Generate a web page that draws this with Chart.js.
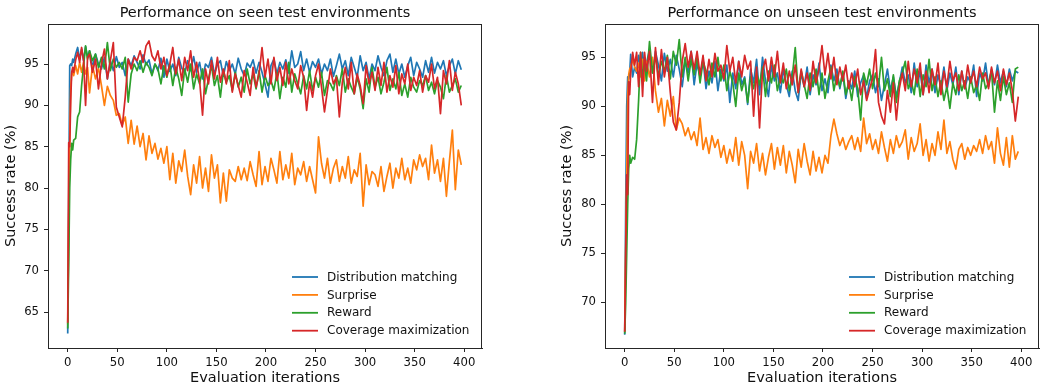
<!DOCTYPE html>
<html>
<head>
<meta charset="utf-8">
<script src="https://cdn.jsdelivr.net/npm/chart.js@4"></script>
<style>
  body { margin: 0; background: #fff; }
  #wrap { position: relative; width: 1040px; height: 387px; }
  canvas { position: absolute; top: 0; }
</style>
</head>
<body>
<div id="wrap">
  <canvas id="seenChart" width="520" height="387" style="left:0"></canvas>
  <canvas id="unseenChart" width="520" height="387" style="left:520px"></canvas>
</div>
<script>
const iters = [0, 1, 2, 3, 4, 5, 6, 8, 10, 12,
  14, 16, 18, 20, 22, 25, 28, 31, 34, 37,
  40, 43, 46, 49, 52, 55, 58, 61, 64, 67,
  70, 73, 76, 79, 82, 85, 88, 91, 94, 97,
  100, 103, 106, 109, 112, 115, 118, 121, 124, 127,
  130, 133, 136, 139, 142, 145, 148, 151, 154, 157,
  160, 163, 166, 169, 172, 175, 178, 181, 184, 187,
  190, 193, 196, 199, 202, 205, 208, 211, 214, 217,
  220, 223, 226, 229, 232, 235, 238, 241, 244, 247,
  250, 253, 256, 259, 262, 265, 268, 271, 274, 277,
  280, 283, 286, 289, 292, 295, 298, 301, 304, 307,
  310, 313, 316, 319, 322, 325, 328, 331, 334, 337,
  340, 343, 346, 349, 352, 355, 358, 361, 364, 367,
  370, 373, 376, 379, 382, 385, 388, 391, 394, 397];

const seriesLabels = ['Distribution matching', 'Surprise', 'Reward', 'Coverage maximization'];
const xTicks = [0, 50, 100, 150, 200, 250, 300, 350, 400];
const seenYTicks = [65, 70, 75, 80, 85, 90, 95];
const unseenYTicks = [70, 75, 80, 85, 90, 95];

// seen test environments
const seenDist = [62.4, 78.0, 94.8, 95.0, 94.8, 95.6, 95.2, 96.2, 97.0, 95.6,
  96.8, 95.4, 97.1, 95.8, 96.6, 94.6, 96.2, 95.0, 94.4, 95.8,
  93.2, 95.4, 94.2, 95.9, 94.6, 95.2, 93.6, 95.6, 94.8, 96.0,
  95.2, 94.4, 96.1, 94.9, 95.5, 93.8, 95.0, 94.2, 95.7, 93.4,
  95.6, 94.1, 95.0, 93.6, 95.8, 94.5, 93.9, 95.4, 94.2, 95.9,
  94.0, 95.2, 93.2, 95.0, 94.6, 95.8, 93.8, 94.9, 95.4, 93.5,
  95.3, 94.2, 95.0, 93.8, 95.7, 94.4, 93.6, 95.1, 94.6, 95.5,
  93.9, 95.2, 94.0, 92.6, 91.0, 94.8, 95.6, 93.8, 95.2, 94.4,
  95.5, 93.9, 96.6, 94.6, 95.0, 96.5, 94.2, 95.6, 94.0, 95.3,
  94.6, 95.6, 93.8, 95.0, 94.2, 95.6, 93.5, 94.8, 96.2, 94.4,
  95.4, 93.6, 95.8, 94.6, 93.4, 96.0, 94.2, 95.2, 93.2, 95.0,
  94.2, 96.0, 94.6, 93.6, 95.4, 96.2, 94.0, 95.6, 93.8, 95.0,
  93.4, 94.8, 95.8, 93.6, 95.2, 94.4, 93.4, 95.4, 94.0, 95.8,
  93.9, 95.2, 94.4, 95.4, 93.6, 94.8, 95.6, 93.8, 95.4, 94.3];
const seenSurp = [63.5, 76.0, 86.0, 92.0, 93.8, 94.2, 93.6, 94.8, 93.8, 95.2,
  94.0, 95.2, 93.8, 94.6, 91.5, 94.8, 93.2, 94.5, 92.4, 90.0,
  92.3, 91.2, 90.6, 88.8, 89.0, 87.6, 88.6, 85.4, 88.2, 85.3,
  87.5, 85.0, 86.6, 83.4, 86.3, 84.2, 85.4, 83.5, 84.8, 83.0,
  85.0, 81.0, 84.2, 80.6, 83.3, 82.0, 84.6, 81.4, 79.2, 82.8,
  80.6, 83.8, 80.0, 82.4, 79.6, 84.0, 81.2, 82.8, 78.2, 81.8,
  78.4, 82.2, 81.2, 80.8, 82.6, 81.0, 82.4, 80.9, 83.2, 81.6,
  80.2, 84.4, 80.4, 82.6, 80.8, 83.6, 82.2, 80.6, 84.4, 81.0,
  82.8, 81.2, 84.2, 80.4, 82.4, 81.6, 83.2, 80.8, 82.6, 81.0,
  79.4, 86.2, 83.0, 81.2, 83.6, 80.6, 82.4, 83.4, 80.8, 82.6,
  81.2, 83.8, 80.6, 82.2, 81.4, 84.2, 77.8, 82.8, 80.4, 82.0,
  81.6, 80.2, 82.6, 79.6, 81.4, 83.0, 80.0, 82.4, 81.2, 83.6,
  81.0, 82.4, 80.6, 83.4, 82.2, 84.0, 82.6, 83.6, 81.0, 85.2,
  81.8, 83.4, 80.8, 83.6, 79.0, 83.2, 87.0, 79.8, 84.6, 82.8];
const seenRew = [63.0, 71.0, 80.0, 83.5, 85.4, 84.6, 85.8, 86.0, 88.6, 89.2,
  92.4, 94.8, 97.2, 95.6, 96.6, 95.4, 96.2, 94.6, 95.8, 94.4,
  97.6, 94.2, 95.6, 94.6, 95.2, 94.4, 95.8, 90.4, 93.8, 95.0,
  94.2, 95.4, 94.0, 95.2, 94.6, 93.6, 95.0, 94.4, 92.6, 94.8,
  93.4, 95.0, 92.4, 94.6, 93.2, 91.2, 94.4, 92.8, 95.0, 92.0,
  93.8, 92.6, 94.4, 91.4, 93.2, 94.8, 92.4, 93.6, 91.0, 94.2,
  92.8, 93.6, 91.8, 94.0, 92.2, 93.4, 91.6, 94.4, 92.6, 93.8,
  92.0, 94.2, 91.6, 93.6, 92.4, 93.0, 91.8, 94.0, 90.8, 93.4,
  92.2, 95.2, 91.6, 93.8, 92.6, 91.4, 93.6, 92.0, 94.2, 91.8,
  93.4, 92.2, 94.0, 91.2, 93.0, 92.6, 91.8, 93.6, 92.4, 94.4,
  91.6, 93.2, 92.2, 91.4, 93.4, 92.0, 89.6, 93.2, 91.6, 94.6,
  92.2, 93.4, 91.4, 92.8, 94.6, 91.8, 93.2, 92.0, 94.0, 91.2,
  92.6, 91.0, 93.4, 92.2, 91.6, 93.0, 92.4, 93.6, 91.8, 92.8,
  91.4, 93.0, 92.2, 90.8, 93.6, 91.6, 92.4, 93.2, 91.6, 92.4];
const seenCov = [63.7, 85.5, 85.0, 90.5, 94.0, 94.6, 94.0, 95.5, 96.4, 95.2,
  97.0, 95.4, 90.0, 95.8, 96.2, 94.0, 95.6, 92.0, 95.0, 96.8,
  93.2, 95.4, 97.6, 89.8, 88.6, 87.4, 91.0, 95.6, 94.4, 95.8,
  95.4, 96.6, 95.2, 97.2, 97.8, 96.0, 95.4, 96.6, 94.4, 95.8,
  93.6, 95.0, 97.0, 93.8, 95.6, 93.0, 95.8, 94.2, 96.6, 93.4,
  95.2, 93.0, 88.8, 94.4, 92.6, 95.4, 93.2, 95.8, 92.8, 94.4,
  92.6, 95.4, 91.6, 93.8, 92.4, 91.0, 94.2, 92.8, 91.2, 94.6,
  92.2, 93.8, 97.0, 93.4, 95.6, 92.6, 95.8, 93.0, 94.6, 92.4,
  95.2, 92.6, 94.4, 93.0, 92.0, 94.8, 93.4, 89.4, 92.8, 91.0,
  93.6, 95.0, 92.2, 89.2, 91.8, 94.4, 92.6, 93.4, 88.6, 92.8,
  94.6, 92.0, 95.2, 91.4, 93.8, 92.4, 90.2, 94.8, 92.6, 94.0,
  91.8, 94.6, 92.4, 95.2, 91.6, 93.6, 92.2, 94.8, 91.4, 93.8,
  92.6, 95.0, 91.8, 93.4, 92.4, 94.2, 91.6, 93.6, 92.8, 95.0,
  92.0, 93.4, 89.0, 94.2, 92.6, 95.4, 91.8, 94.0, 92.6, 90.0];

// unseen test environments
const unseenDist = [66.7, 80.0, 90.0, 93.0, 92.8, 93.4, 95.3, 93.0, 94.0, 93.4,
  95.2, 94.0, 95.5, 93.6, 94.4, 95.8, 93.4, 95.6, 94.2, 92.6,
  95.4, 93.6, 94.8, 93.0, 95.2, 93.8, 92.0, 94.6, 93.4, 95.6,
  92.2, 94.4, 93.0, 94.8, 91.8, 93.6, 92.4, 94.6, 91.6, 93.8,
  92.6, 94.2, 90.4, 93.4, 91.8, 94.6, 92.2, 93.0, 90.2, 93.8,
  92.4, 94.8, 91.2, 95.0, 92.6, 91.0, 94.2, 92.6, 93.4, 91.4,
  93.8, 92.2, 91.0, 93.6, 91.6, 90.6, 93.4, 92.0, 94.0, 91.2,
  93.2, 92.2, 94.4, 91.6, 92.8, 91.4, 94.2, 92.6, 93.8, 91.8,
  93.4, 90.8, 92.6, 91.8, 93.6, 91.0, 92.4, 93.2, 90.8, 92.6,
  93.2, 91.4, 92.8, 90.6, 92.2, 93.8, 91.6, 93.0, 91.0, 92.4,
  94.0, 92.4, 93.2, 91.4, 94.4, 92.0, 93.6, 91.2, 94.2, 92.4,
  93.8, 91.4, 93.2, 92.0, 94.0, 91.6, 93.4, 92.2, 94.0, 91.2,
  93.6, 91.8, 93.0, 92.4, 94.2, 91.0, 93.4, 92.6, 94.4, 92.0,
  93.8, 92.2, 94.2, 92.4, 93.6, 92.0, 93.8, 92.6, 93.6, 93.4];
const unseenSurp = [67.0, 76.0, 83.0, 91.0, 93.2, 93.8, 94.0, 94.8, 94.0, 93.6,
  94.4, 93.0, 94.8, 92.6, 94.6, 93.0, 95.0, 91.6, 89.4, 90.8,
  88.0, 90.6, 89.0, 91.0, 87.6, 88.8, 88.2, 87.0, 87.8, 86.6,
  87.4, 86.0, 88.8, 85.6, 86.8, 85.2, 87.0, 85.8, 86.6, 84.8,
  86.0, 84.2, 85.6, 84.4, 86.8, 84.0, 86.4, 85.0, 81.6, 85.4,
  84.2, 86.2, 83.4, 85.2, 83.0, 84.8, 86.2, 83.6, 85.8, 84.0,
  86.0, 83.2, 85.4, 84.0, 82.2, 85.6, 83.8, 86.2, 84.4, 83.0,
  85.4, 83.4, 84.8, 83.2, 85.0, 84.2, 87.0, 88.7, 87.2, 86.0,
  86.8, 85.6, 86.4, 87.0, 85.6, 86.8, 85.4, 88.8, 86.2, 87.2,
  85.6, 86.6, 85.2, 87.4, 85.8, 84.4, 86.6, 85.2, 87.0, 85.8,
  86.4, 87.6, 84.6, 86.8, 85.4, 86.2, 88.2, 85.0, 86.6, 84.4,
  86.2, 85.0, 87.4, 85.6, 88.6, 85.2, 86.4, 84.6, 83.6, 85.6,
  86.2, 84.6, 85.8, 85.0, 86.0, 85.4, 86.6, 85.2, 87.0, 85.6,
  86.4, 84.2, 87.8, 85.2, 84.0, 86.8, 83.8, 87.0, 84.6, 85.4];
const unseenRew = [66.8, 70.0, 75.0, 80.0, 83.6, 85.0, 84.2, 84.8, 84.6, 86.6,
  90.6, 95.5, 93.0, 94.4, 92.6, 96.6, 93.4, 95.2, 93.0, 94.6,
  93.6, 95.2, 92.8, 95.6, 94.2, 96.8, 93.0, 95.0, 92.6, 94.8,
  93.2, 95.0, 92.4, 94.6, 93.6, 92.2, 94.4, 93.0, 95.0, 92.6,
  94.2, 91.6, 93.6, 92.4, 90.0, 93.4, 91.6, 92.8, 90.4, 93.0,
  91.8, 93.4, 92.2, 94.0, 91.0, 93.6, 92.4, 94.2, 91.6, 93.0,
  92.4, 93.8, 91.6, 93.0, 96.0, 91.4, 93.6, 92.2, 90.8, 93.4,
  92.0, 93.8, 91.2, 93.4, 90.8, 92.6, 94.0, 91.6, 93.2, 92.0,
  93.6, 91.2, 92.4, 90.6, 93.0, 91.8, 88.6, 93.4, 92.2, 93.8,
  91.8, 93.4, 92.0, 95.0, 91.6, 92.8, 91.0, 93.2, 90.4, 92.6,
  93.4, 94.6, 91.8, 92.6, 91.2, 93.8, 91.0, 93.2, 92.0, 94.8,
  91.6, 93.0, 91.0, 92.6, 90.6, 92.0, 89.8, 92.4, 91.2, 93.2,
  91.6, 92.6, 90.8, 93.0, 91.4, 92.2, 90.6, 93.4, 91.8, 92.4,
  93.6, 89.4, 92.6, 90.6, 93.0, 91.2, 92.4, 90.4, 93.8, 94.0];
const unseenCov = [67.0, 75.0, 83.0, 81.0, 92.5, 91.2, 93.4, 95.5, 94.2, 95.5,
  92.0, 95.5, 91.0, 95.5, 93.6, 95.6, 90.4, 96.0, 92.2, 95.8,
  93.0, 95.0, 91.4, 88.4, 87.6, 90.4, 94.6, 96.4, 94.0, 95.6,
  93.8, 95.6, 93.2, 95.2, 92.6, 94.8, 93.0, 95.4, 93.6, 94.2,
  92.8, 96.2, 93.6, 95.0, 92.4, 94.6, 93.0, 95.2, 93.8, 94.6,
  89.0, 94.0, 87.8, 93.6, 94.8, 92.6, 95.0, 93.0, 95.6, 92.4,
  94.4, 91.8, 93.6, 92.2, 94.2, 91.4, 93.8, 92.0, 93.4, 91.6,
  94.6, 92.4, 93.8, 96.2, 93.2, 95.4, 92.8, 95.0, 92.2, 94.0,
  92.6, 94.2, 91.8, 93.4, 92.0, 93.8, 91.2, 92.6, 90.6, 91.8,
  92.8, 95.8, 90.4, 89.0, 88.2, 91.6, 89.4, 92.4, 88.6, 91.8,
  93.4, 91.6, 94.6, 92.0, 93.8, 92.4, 94.4, 91.2, 93.6, 91.4,
  93.8, 92.2, 94.4, 91.2, 93.6, 92.0, 94.6, 92.6, 93.4, 91.6,
  93.6, 91.8, 94.2, 92.4, 93.6, 92.0, 94.0, 92.8, 93.4, 91.8,
  94.0, 92.4, 93.6, 91.6, 93.8, 92.2, 93.4, 91.6, 88.5, 91.0];

const colors = ['#1f77b4', '#ff7f0e', '#2ca02c', '#d62728'];
const FONT = '"DejaVu Sans", sans-serif';
const TEXT = '#111';
const AXIS = '#262626';

// frame around the axes, plot title and the legend inside the axes (bottom right)
const axesDecor = {
  id: 'axesDecor',
  afterDraw(chart, args, opts) {
    const { ctx, chartArea: a } = chart;
    ctx.save();
    ctx.strokeStyle = AXIS;
    ctx.lineWidth = 1;
    ctx.strokeRect(a.left + 0.5, a.top + 0.5, a.right - a.left - 1, a.bottom - a.top);

    ctx.fillStyle = TEXT;
    ctx.font = '14.5px ' + FONT;
    ctx.textAlign = 'center';
    ctx.textBaseline = 'middle';
    ctx.fillText(opts.title, (a.left + a.right) / 2, 13);

    ctx.font = '12px ' + FONT;
    ctx.textAlign = 'left';
    chart.data.datasets.forEach((ds, i) => {
      const y = a.bottom - 71 + i * 17.9;
      ctx.strokeStyle = ds.borderColor;
      ctx.lineWidth = 1.8;
      ctx.beginPath();
      ctx.moveTo(a.right - 190, y);
      ctx.lineTo(a.right - 164, y);
      ctx.stroke();
      ctx.fillText(ds.label, a.right - 155, y + 0.5);
    });
    ctx.restore();
  }
};

function makeChart(id, title, series, yTicks, yMin, yMax, pad, yWidth) {
  const datasets = series.map((vals, i) => ({
    label: seriesLabels[i],
    data: iters.map((x, j) => ({ x: x, y: vals[j] })),
    borderColor: colors[i],
    borderWidth: 1.7,
    borderJoinStyle: 'round',
    pointRadius: 0,
    order: series.length - i
  }));
  const tickFont = { family: FONT, size: 11.7 };
  const labelFont = { family: FONT, size: 14.5 };
  return new Chart(document.getElementById(id), {
    type: 'line',
    data: { datasets: datasets },
    options: {
      responsive: false,
      animation: false,
      devicePixelRatio: 1,
      layout: { padding: pad },
      plugins: {
        legend: { display: false },
        tooltip: { enabled: false },
        axesDecor: { title: title }
      },
      scales: {
        x: {
          type: 'linear',
          min: -19.9,
          max: 417.9,
          afterBuildTicks: (s) => { s.ticks = xTicks.map(v => ({ value: v })); },
          afterFit: (s) => { s.height = 39; },
          ticks: { font: tickFont, color: TEXT, padding: 4, maxRotation: 0 },
          grid: { drawOnChartArea: false, tickLength: 4, color: AXIS },
          border: { color: AXIS },
          title: { display: true, text: 'Evaluation iterations', font: labelFont, color: TEXT, padding: 0 }
        },
        y: {
          min: yMin,
          max: yMax,
          afterBuildTicks: (s) => { s.ticks = yTicks.map(v => ({ value: v })); },
          afterFit: (s) => { s.width = yWidth; },
          ticks: { font: tickFont, color: TEXT, padding: 5 },
          grid: { drawOnChartArea: false, tickLength: 4, color: AXIS },
          border: { color: AXIS },
          title: { display: true, text: 'Success rate (%)', font: labelFont, color: TEXT, padding: 3 }
        }
      }
    },
    plugins: [axesDecor]
  });
}

makeChart('seenChart', 'Performance on seen test environments',
  [seenDist, seenSurp, seenRew, seenCov], seenYTicks, 60.65, 99.84,
  { top: 24, right: 38, bottom: 0, left: 0 }, 48);
makeChart('unseenChart', 'Performance on unseen test environments',
  [unseenDist, unseenSurp, unseenRew, unseenCov], unseenYTicks, 65.34, 98.4,
  { top: 24, right: 1, bottom: 0, left: 36 }, 49);
</script>
</body>
</html>
